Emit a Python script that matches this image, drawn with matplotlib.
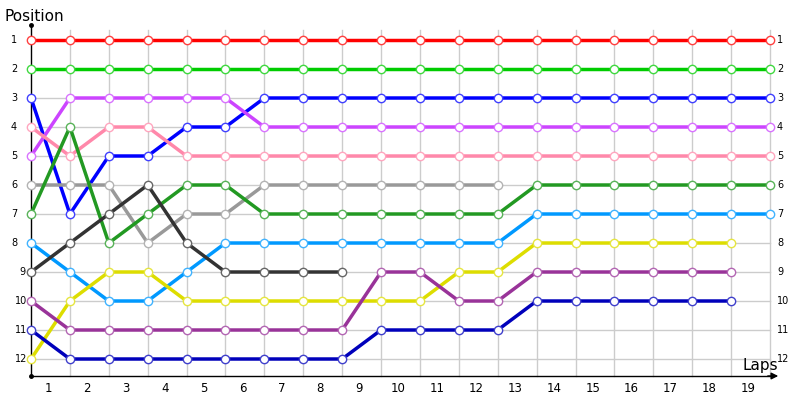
import matplotlib
matplotlib.use("Agg")
import matplotlib.pyplot as plt
from matplotlib.colors import to_rgb

# positions per series at each grid point (0..19)
red       = [1, 1, 1, 1, 1, 1, 1, 1, 1, 1, 1, 1, 1, 1, 1, 1, 1, 1, 1, 1]
green     = [2, 2, 2, 2, 2, 2, 2, 2, 2, 2, 2, 2, 2, 2, 2, 2, 2, 2, 2, 2]
blue      = [3, 7, 5, 5, 4, 4, 3, 3, 3, 3, 3, 3, 3, 3, 3, 3, 3, 3, 3, 3]
violet    = [5, 3, 3, 3, 3, 3, 4, 4, 4, 4, 4, 4, 4, 4, 4, 4, 4, 4, 4, 4]
pink      = [4, 5, 4, 4, 5, 5, 5, 5, 5, 5, 5, 5, 5, 5, 5, 5, 5, 5, 5, 5]
gray      = [6, 6, 6, 8, 7, 7, 6, 6, 6, 6, 6, 6, 6]
darkgreen = [7, 4, 8, 7, 6, 6, 7, 7, 7, 7, 7, 7, 7, 6, 6, 6, 6, 6, 6, 6]
lightblue = [8, 9, 10, 10, 9, 8, 8, 8, 8, 8, 8, 8, 8, 7, 7, 7, 7, 7, 7, 7]
darkgray  = [9, 8, 7, 6, 8, 9, 9, 9, 9]
yellow    = [12, 10, 9, 9, 10, 10, 10, 10, 10, 10, 10, 9, 9, 8, 8, 8, 8, 8, 8]
purple    = [10, 11, 11, 11, 11, 11, 11, 11, 11, 9, 9, 10, 10, 9, 9, 9, 9, 9, 9]
darkblue  = [11, 12, 12, 12, 12, 12, 12, 12, 12, 11, 11, 11, 11, 10, 10, 10, 10, 10, 10]

series = [
    (red, "#ff0000"), (green, "#00cc00"), (blue, "#0000ff"),
    (violet, "#cc44ff"), (pink, "#ff88aa"), (gray, "#999999"),
    (darkgreen, "#229922"), (lightblue, "#0099ff"), (darkgray, "#333333"),
    (yellow, "#dddd00"), (purple, "#993399"), (darkblue, "#0000bb"),
]

laps = list(range(1, 20))
rows = list(range(1, 13))

# pixel layout helpers
X0, DX = 31.0, (770 - 31) / 19.0
Y0, DY = 40.0, (359 - 40) / 11.0


def xd(px):
    return (px - X0) / DX


def yd(py):
    return 1 + (py - Y0) / DY


def lighten(c, f=0.25):
    r, g, b = to_rgb(c)
    return (r + (1 - r) * f, g + (1 - g) * f, b + (1 - b) * f)


fig = plt.figure(figsize=(8, 4), dpi=100)
ax = fig.add_axes([0, 0, 1, 1])
ax.set_xlim(xd(0), xd(800))
ax.set_ylim(yd(400), yd(0))
ax.axis("off")

bottom = yd(376)
top = yd(25)

# grid
for i in range(1, 20):
    ax.plot([i, i], [yd(30), bottom], color="#cccccc", lw=1, zorder=1)
for r in rows:
    ax.plot([0, 19], [r, r], color="#cccccc", lw=1, zorder=1)

# axes
ax.plot([0, 0], [top, bottom], color="black", lw=1, zorder=2)
ax.plot([0, xd(772)], [bottom, bottom], color="black", lw=1, zorder=2)
ax.annotate("", xy=(xd(781), bottom), xytext=(xd(765), bottom),
            arrowprops=dict(arrowstyle="-|>", color="black", lw=1,
                            mutation_scale=10))
ax.plot([0], [top], "o", color="black", ms=2.5, zorder=3)
ax.plot([0], [bottom], "o", color="black", ms=2.5, zorder=3)

# lines
for vals, c in series:
    ax.plot(range(len(vals)), vals, color=c, lw=2.5, zorder=4,
            solid_capstyle="round", solid_joinstyle="round")
    ax.plot(range(len(vals)), vals, "o", color=c, ms=6, mfc="white",
            mec=lighten(c), mew=1, zorder=5)

# labels
for r in rows:
    lx = 14 if r <= 8 else (22 if r == 9 else 21)
    ax.text(xd(lx), r, str(r), fontsize=7, ha="center", va="center")
    ax.text(xd(777), r, str(r), fontsize=7, ha="left", va="center")

for lap in laps:
    ax.text(lap - 0.56, yd(388), str(lap), fontsize=8.5, ha="center",
            va="center")

fig.text(4 / 800, 1 - 21 / 400, "Position", fontsize=11, ha="left",
         va="baseline")
fig.text(742 / 800, 1 - 370 / 400, "Laps", fontsize=11, ha="left",
         va="baseline")

fig.savefig("out.png", dpi=100)
